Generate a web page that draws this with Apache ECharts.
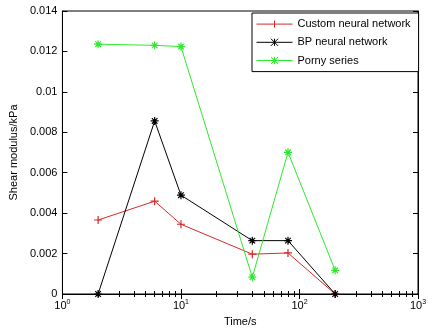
<!DOCTYPE html>
<html><head><meta charset="utf-8">
<script src="https://cdn.jsdelivr.net/npm/echarts@6/dist/echarts.min.js"></script>
<style>html,body{margin:0;padding:0;background:#fff}#c{width:433px;height:332px}</style>
</head><body><div id="c"></div>
<script>
var times = [2, 6, 10, 40, 80, 200];
var customNN = [0.00366, 0.00459, 0.00345, 0.00197, 0.00203, 0.0];
var bpNN = [0.0, 0.00856, 0.00489, 0.00264, 0.00264, 0.0];
var pornySeries = [0.01236, 0.0123, 0.01224, 0.00083, 0.00701, 0.00117];
var seriesNames = ['Custom neural network', 'BP neural network', 'Porny series'];

var plus = 'path://M0,5L10,5M5,0L5,10';
var star = 'path://M0,5L10,5M5,0L5,10M1.5,1.5L8.5,8.5M1.5,8.5L8.5,1.5';
var plusLeg = 'path://M0,5L40,5M20,1L20,9';
var starLeg = 'path://M0,5L40,5M16,1L24,9M20,1L20,9M16,9L24,1';
function pairs(v){ return times.map(function(t,i){return [t, v[i]];}); }
var font = 'Liberation Sans, Arial, sans-serif';
var colors = ['#d42a2a', '#000000', '#2ee82e'];
var chart = echarts.init(document.getElementById('c'), null, {renderer:'canvas'});
function mkSeries(name, data, color, sym){
  return {name:name, type:'line', data:pairs(data), xAxisIndex:0, yAxisIndex:0,
    symbol:sym, symbolSize:8, showSymbol:true,
    lineStyle:{color:color, width:1},
    itemStyle:{color:'none', borderColor:color, borderWidth:1.2},
    emphasis:{disabled:true}, animation:false};
}
chart.setOption({
  animation:false,
  backgroundColor:'#fff',
  grid:{left:58, right:15, top:11, bottom:38, show:true, borderColor:'#000', borderWidth:1},
  legend:{orient:'vertical', left:252, top:13, width:160,
    backgroundColor:'#fff', borderColor:'#000', borderWidth:1, padding:[5,8,5,2],
    itemWidth:36, itemHeight:9, itemGap:6,
    textStyle:{fontFamily:font, fontSize:11, color:'#000'},
    data:[
      {name:seriesNames[0], icon:plusLeg, itemStyle:{color:'none', borderColor:colors[0], borderWidth:1}},
      {name:seriesNames[1], icon:starLeg, itemStyle:{color:'none', borderColor:colors[1], borderWidth:1}},
      {name:seriesNames[2], icon:starLeg, itemStyle:{color:'none', borderColor:colors[2], borderWidth:1}}
    ]},
  xAxis:[
    {type:'log', logBase:10, min:1, max:1000, position:'bottom',
     name:'Time/s', nameLocation:'middle', nameGap:22,
     nameTextStyle:{fontFamily:font, fontSize:11, color:'#000'},
     axisLine:{lineStyle:{color:'#000'}}, splitLine:{show:false},
     axisTick:{inside:true, length:5, lineStyle:{color:'#000'}},
     minorTick:{show:true, splitNumber:9, length:-3, lineStyle:{color:'#000', width:1}},
     axisLabel:{fontFamily:font, fontSize:11, color:'#000', margin:5,
       formatter:function(v){var e=Math.round(Math.log10(v));return '{b|10}{s|'+e+'}';},
       rich:{b:{fontFamily:font,fontSize:11,color:'#000'}, s:{fontFamily:font,fontSize:7,color:'#000',verticalAlign:'top',padding:[0,0,6,0]}}}},
    {type:'log', logBase:10, min:1, max:1000, position:'top',
     axisLine:{show:false}, splitLine:{show:false}, axisLabel:{show:false},
     minorTick:{show:true, splitNumber:9, length:-3, lineStyle:{color:'#000', width:1}},
     axisTick:{inside:true, length:5, lineStyle:{color:'#000'}}}
  ],
  yAxis:[
    {type:'value', min:0, max:0.014, interval:0.002, position:'left',
     name:'Shear modulus/kPa', nameLocation:'middle', nameGap:40,
     nameTextStyle:{fontFamily:font, fontSize:11, color:'#000'},
     axisLine:{show:true, lineStyle:{color:'#000'}}, splitLine:{show:false},
     axisTick:{inside:true, length:5, lineStyle:{color:'#000'}},
     axisLabel:{fontFamily:font, fontSize:11, color:'#000', margin:5}},
    {type:'value', min:0, max:0.014, interval:0.002, position:'right',
     axisLine:{show:true, lineStyle:{color:'#000'}}, splitLine:{show:false},
     axisTick:{inside:true, length:5, lineStyle:{color:'#000'}},
     axisLabel:{show:false}}
  ],
  series:[
    mkSeries(seriesNames[0], customNN, colors[0], plus),
    mkSeries(seriesNames[1], bpNN, colors[1], star),
    mkSeries(seriesNames[2], pornySeries, colors[2], star)
  ]
});
</script></body></html>
